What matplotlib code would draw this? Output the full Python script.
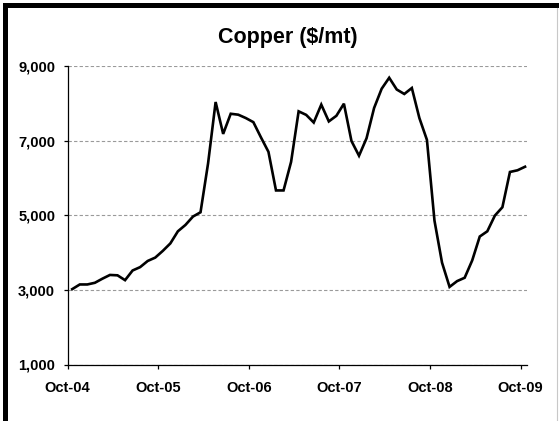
import matplotlib
matplotlib.use('Agg')
import matplotlib.pyplot as plt
from matplotlib.patches import Rectangle
from matplotlib.lines import Line2D
from matplotlib.ticker import FuncFormatter

# monthly copper price, Oct-04 .. Oct-09 ($/mt)
prices = [3020, 3145, 3145, 3190, 3300, 3400, 3390, 3260, 3520, 3610,
          3775, 3865, 4045, 4245, 4570, 4740, 4965, 5080, 6390, 8035,
          7180, 7720, 7695, 7605, 7495, 7090, 6700, 5665, 5665, 6430,
          7785, 7690, 7485, 7965, 7515, 7665, 7990, 6990, 6595, 7065,
          7875, 8390, 8685, 8370, 8250, 8410, 7605, 7020, 4855, 3730,
          3080, 3235, 3325, 3790, 4430, 4570, 4990, 5215, 6160, 6205,
          6300]
tick_labels = ['Oct-04', 'Oct-05', 'Oct-06', 'Oct-07', 'Oct-08', 'Oct-09']
y_ticks = [1000, 3000, 5000, 7000, 9000]

plt.rcParams['font.family'] = ['Liberation Sans', 'DejaVu Sans']

W, H = 559, 421
fig = plt.figure(figsize=(W / 100, H / 100), dpi=100)
ax = fig.add_axes([67.7 / W, 1 - 364.5 / H, (526.7 - 67.7) / W, (364.5 - 66) / H])

months = [i + 0.6 for i in range(len(prices))]
ax.plot(months, prices, color='black', lw=1.9, solid_joinstyle='miter')

ax.set_xlim(0, 60.82)
ax.set_ylim(1000, 9000)
ax.set_xticks(range(0, 61, 12))
ax.set_xticklabels(tick_labels)
ax.set_yticks(y_ticks)
ax.yaxis.set_major_formatter(FuncFormatter(lambda v, p: f'{int(v):,}'))

ax.grid(axis='y', color='#9a9a9a', ls=(0, (3, 2)), lw=0.8)
for s in ['top', 'right']:
    ax.spines[s].set_visible(False)
for s in ['left', 'bottom']:
    ax.spines[s].set_linewidth(0.9)
ax.tick_params(axis='both', direction='out', length=3, width=0.9, labelsize=10.5)
ax.tick_params(axis='y', pad=6)
ax.tick_params(axis='x', pad=9)
for lab in ax.get_xticklabels() + ax.get_yticklabels():
    lab.set_fontweight('bold')

fig.text(288 / W, 1 - 37 / H, 'Copper ($/mt)', ha='center', va='center',
         fontsize=15.5, fontweight='bold')

# frame of the original screenshot
fig.add_artist(Rectangle((3 / W, 0), 4.5 / W, 1 - 3.5 / H, transform=fig.transFigure,
                         color='black', lw=0))
fig.add_artist(Rectangle((3 / W, 1 - 8 / H), 1 - 3 / W, 4.5 / H, transform=fig.transFigure,
                         color='black', lw=0))
fig.add_artist(Line2D([556.5 / W, 556.5 / W], [0, 1 - 8 / H], transform=fig.transFigure,
                      color='#c8c8c8', lw=0.8))

fig.savefig('out.png', dpi=100)
